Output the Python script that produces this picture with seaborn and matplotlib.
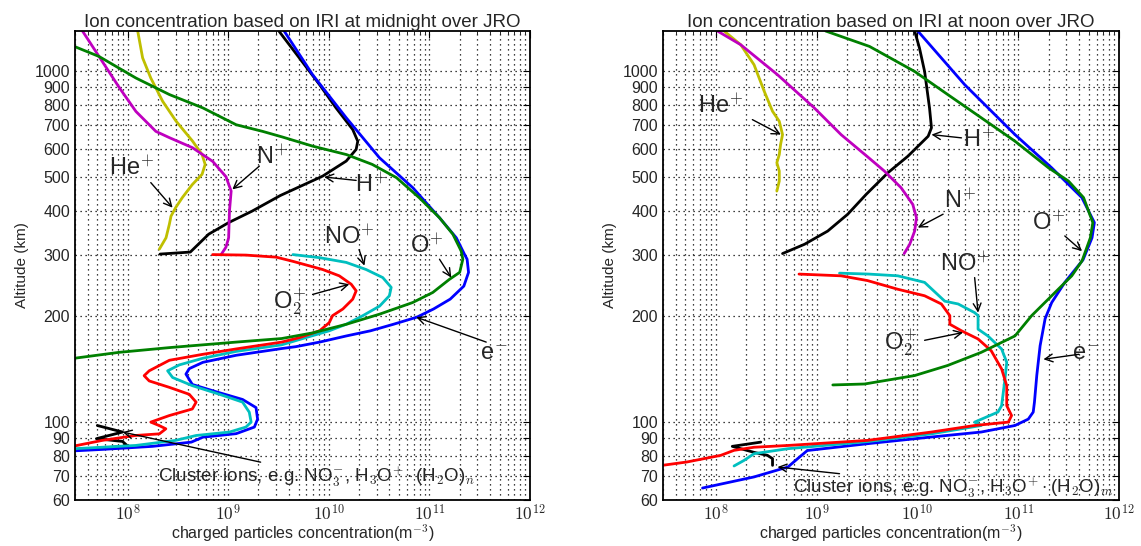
import numpy as np
import matplotlib
matplotlib.use("Agg")
import matplotlib.pyplot as plt
import seaborn as sns

# ---------------- data (concentration in m^-3, altitude in km) ----------------
# Midnight
mid_e_conc = [3.6e9, 6.9e9, 1.49e10, 3.19e10, 6.85e10, 1.26e11, 1.85e11, 2.24e11, 2.37e11, 2.45e11, 2.2e11,
              1.61e11, 1.1e11, 7.5e10, 4.4e10, 2.6e10, 1.5e10, 8.1e9, 4.7e9, 3.4e9, 1.2e9, 5.6e8, 4.1e8, 3.8e8,
              4.4e8, 7.6e8, 1.39e9, 1.89e9, 1.96e9, 1.82e9, 1.2e9, 5.6e8, 4.3e8, 1.77e8, 5.6e7, 2.9e7]
mid_e_alt = [1300, 976, 736, 566, 465, 382, 335, 300, 291, 267, 244,
             224, 210, 199, 190, 182, 176, 169, 164, 162, 155, 148, 142, 137,
             128, 122, 116, 110, 102, 96.8, 92.7, 90.6, 87.7, 85.3, 83.6, 82.8]

mid_o_conc = [2.95e7, 5.2e7, 1.21e8, 2.6e8, 5.6e8, 1.2e9, 2.2e9, 3.5e9, 6.9e9, 1.5e10, 2.7e10, 4.7e10, 7.9e10,
              1.26e11, 1.71e11, 2.07e11, 2.15e11, 2.0e11, 1.58e11, 1.08e11, 6.8e10, 3.2e10, 1.5e10, 6.9e9,
              3.4e9, 1.2e9, 2.6e8, 8.2e7, 2.95e7]
mid_o_alt = [1175, 1100, 955, 857, 785, 703, 673, 648, 611, 578, 542, 497, 436,
             382, 343, 307, 291, 267, 255, 234, 219, 203, 190, 179.5,
             173, 169, 163, 158, 152]

mid_h_conc = [3.22e9, 5.1e9, 8.1e9, 1.18e10, 1.73e10, 1.94e10, 1.87e10, 1.49e10, 8.7e9, 3.3e9, 1.73e9,
              1.01e9, 6.4e8, 4.2e8, 2.1e8]
mid_h_alt = [1295, 1089, 914, 785, 681, 631, 598, 554, 502, 442, 399, 370, 343, 305, 301]

mid_he_conc = [1.26e8, 1.41e8, 1.7e8, 2.23e8, 3.03e8, 4.43e8, 5.5e8, 5.9e8, 5.5e8, 4.4e8, 3.5e8, 3.0e8,
               2.7e8, 2.6e8, 2.41e8, 2.07e8]
mid_he_alt = [1300, 1090, 955, 820, 720, 631, 578, 542, 508, 475, 436, 408, 386, 366, 335, 311]

mid_n_conc = [3.56e7, 5.2e7, 8.2e7, 1.21e8, 1.91e8, 2.6e8, 4.4e8, 7.0e8, 9.5e8, 1.07e9, 1.03e9, 1.01e9,
              9.5e8, 8.5e8]
mid_n_alt = [1300, 1100, 900, 767, 673, 646, 605, 553, 500, 455, 400, 335, 315, 300]

mid_o2_conc = [7.0e8, 1.5e9, 3.0e9, 4.4e9, 8.7e9, 1.27e10, 1.67e10, 1.87e10, 1.73e10, 1.38e10, 1.09e10,
               1.01e10, 8.1e9, 5.1e9, 3.4e9, 1.2e9, 5.6e8, 2.6e8, 1.64e8, 1.46e8, 1.64e8, 2.6e8, 4.1e8,
               4.8e8, 4.4e8, 2.6e8, 1.7e8, 2.07e8, 2.4e8, 2.07e8, 1.2e8, 5.6e7, 2.95e7]
mid_o2_alt = [300, 299, 295, 287, 272, 261, 247, 236.5, 224, 210, 201,
              192, 182, 174, 169, 161.6, 156, 150, 140, 135.6, 131, 125.6, 120,
              114, 109, 104.4, 100, 97.7, 95.7, 92.6, 91.6, 88.7, 85.5]

mid_no_conc = [4.4e9, 8.1e9, 1.49e10, 2.35e10, 3.44e10, 4.17e10, 4.0e10, 3.2e10, 2.18e10, 1.49e10, 1.01e10,
               5.9e9, 3.4e9, 1.2e9, 5.6e8, 3.26e8, 2.5e8, 2.8e8, 4.4e8, 8.2e8, 1.39e9, 1.62e9, 1.69e9,
               1.5e9, 1.03e9, 4.8e8, 3.0e8, 1.2e8, 2.95e7]
mid_no_alt = [300, 294, 285, 272, 258, 242, 229, 214, 201, 190, 182,
              174, 166, 159, 152, 145.5, 140, 134, 127, 120, 114, 106.7, 100,
              96.8, 93.7, 91.6, 88.7, 85.8, 84]

mid_cl_conc = [5.0e7, 8.9e7, 4.9e7, 8.9e7, 1.0e8, 2.95e7]
mid_cl_alt = [97.8, 93.7, 89.7, 88.1, 85.5, 83.2]

# Noon
noon_e_conc = [1.01e10, 2.95e10, 9.3e10, 2.15e11, 4.28e11, 5.7e11, 5.4e11, 4.4e11, 2.9e11, 2.15e11, 1.85e11,
               1.65e11, 1.53e11, 1.45e11, 1.41e11, 1.26e11, 9.3e10, 4.3e10, 1.38e10, 3.2e9, 8.1e8, 6.5e8,
               5.2e8, 2.4e8, 7.4e7]
noon_e_alt = [1300, 914, 659, 530, 436, 370, 335, 290, 250, 219, 197,
              165, 136, 114, 106.8, 102, 97.8, 93.7, 90.7, 86.8, 83, 78.7,
              74.5, 69.8, 64.9]

noon_o_conc = [1.23e9, 3.35e9, 9.4e9, 2.0e10, 4.3e10, 9.3e10, 2.0e11, 3.15e11, 4.45e11, 5.5e11, 5.2e11, 4.3e11,
               3.4e11, 2.15e11, 1.36e11, 9.3e10, 4.3e10, 2.0e10, 9.4e9, 3.0e9, 1.45e9]
noon_o_alt = [1300, 1175, 997, 857, 736, 631, 530, 486, 436, 370, 335, 288,
              261, 229, 201, 176, 158, 145, 135.7, 128.4, 127.6]

noon_h_conc = [9.4e9, 1.05e10, 1.18e10, 1.32e10, 1.38e10, 1.28e10, 8.06e9, 5.1e9, 3.1e9, 2.04e9, 1.29e9,
               7.6e8, 4.6e8]
noon_h_alt = [1300, 1162, 997, 785, 689, 652, 572, 513, 445, 391, 350, 321, 302]

noon_he_conc = [1.21e8, 1.77e8, 2.4e8, 3.03e8, 3.66e8, 4.27e8, 4.6e8, 4.4e8, 4.27e8, 4.04e8, 4.27e8, 4.27e8, 4.04e8]
noon_he_alt = [1300, 1188, 1042, 875, 768, 719, 659, 618, 578, 548, 519, 486, 455]

noon_n_conc = [1.04e8, 1.77e8, 4.1e8, 9.5e8, 1.75e9, 3.2e9, 4.7e9, 6.9e9, 9.0e9, 9.8e9, 9.4e9, 8.4e9, 7.4e9]
noon_n_alt = [1300, 1188, 976, 785, 659, 570, 519, 465, 417, 382, 350, 321, 302]

noon_o2_conc = [6.7e8, 1.75e9, 3.2e9, 6.4e9, 1.18e10, 1.73e10, 2.1e10, 2.1e10, 2.74e10, 4.0e10, 5.4e10, 6.85e10,
                7.7e10, 7.7e10, 8.6e10, 8.0e10, 3.7e10, 1.38e10, 3.2e9, 5.2e8, 2.4e8, 1.52e8, 1.12e8,
                7.66e7, 5.2e7, 2.94e7]
noon_o2_alt = [264, 261, 253, 239, 229, 217, 201, 190, 182, 172.5, 159.7, 141.7,
               127, 111.4, 104.4, 100, 97.8, 93.7, 88.7, 85.8, 84.8, 83.1, 80.4,
               78.7, 77, 75.3]

noon_no_conc = [1.69e9, 3.3e9, 6.4e9, 1.18e10, 1.87e10, 2.54e10, 3.7e10, 4.0e10, 4.0e10, 5.0e10, 6.85e10,
                7.7e10, 7.4e10, 6.85e10, 6.3e10, 3.7e10, 4.3e10, 1.38e10, 3.2e9, 5.2e8, 2.4e8, 1.91e8, 1.52e8]
noon_no_alt = [265.6, 264, 261, 250, 221, 217, 205, 201, 184, 176, 161.5,
               148, 132.8, 111.4, 106.8, 100, 97.8, 92.6, 88, 84, 81.3, 77.8, 75]

noon_cl_conc = [2.8e8, 1.46e8, 2.4e8, 3.26e8, 3.66e8, 3.66e8]
noon_cl_alt = [87.7, 85.3, 82, 80.4, 78.7, 75.3]

# axis ticks
alt_ticks = [60, 70, 80, 90, 100, 200, 300, 400, 500, 600, 700, 800, 900, 1000]
conc_ticks = [1e8, 1e9, 1e10, 1e11, 1e12]
conc_tick_labels = [r"$10^{8}$", r"$10^{9}$", r"$10^{10}$", r"$10^{11}$", r"$10^{12}$"]

titles = ["Ion concentration based on IRI at midnight over JRO",
          "Ion concentration based on IRI at noon over JRO"]

# ---------------- styling ----------------
sns.set_style("white")
plt.rcParams["font.family"] = ["Liberation Sans", "DejaVu Sans"]
plt.rcParams["mathtext.fontset"] = "cm"

C = dict(b=(0, 0, 1), g=(0, 0.5, 0), r=(1, 0, 0), c=(0, 0.75, 0.75),
         m=(0.75, 0, 0.75), y=(0.75, 0.75, 0), k=(0, 0, 0))

fig = plt.figure(figsize=(11.41, 5.46), dpi=100)
axL = fig.add_axes([75 / 1141, 46 / 546, 455 / 1141, 469 / 546])
axR = fig.add_axes([663 / 1141, 46 / 546, 456 / 1141, 469 / 546])


def draw(ax, series):
    for conc, alt, col in series:
        sns.lineplot(x=conc, y=alt, sort=False, estimator=None, color=C[col], lw=2.0, ax=ax,
                     legend=False)


draw(axL, [(mid_cl_conc, mid_cl_alt, "k"), (mid_h_conc, mid_h_alt, "k"),
           (mid_he_conc, mid_he_alt, "y"), (mid_n_conc, mid_n_alt, "m"),
           (mid_e_conc, mid_e_alt, "b"), (mid_no_conc, mid_no_alt, "c"),
           (mid_o2_conc, mid_o2_alt, "r"), (mid_o_conc, mid_o_alt, "g")])
draw(axR, [(noon_cl_conc, noon_cl_alt, "k"), (noon_h_conc, noon_h_alt, "k"),
           (noon_he_conc, noon_he_alt, "y"), (noon_n_conc, noon_n_alt, "m"),
           (noon_e_conc, noon_e_alt, "b"), (noon_no_conc, noon_no_alt, "c"),
           (noon_o2_conc, noon_o2_alt, "r"), (noon_o_conc, noon_o_alt, "g")])

grid_ls = (0, (1, 3))
for ax, t in zip([axL, axR], titles):
    ax.set_xscale("log")
    ax.set_yscale("log")
    ax.set_xlim(3e7, 1e12)
    ax.set_ylim(60, 1300)
    ax.set_xticks(conc_ticks)
    ax.set_xticklabels(conc_tick_labels, fontsize=12.5)
    ax.xaxis.set_minor_locator(matplotlib.ticker.LogLocator(base=10, subs=np.arange(2, 10)))
    ax.xaxis.set_minor_formatter(matplotlib.ticker.NullFormatter())
    ax.set_yticks(alt_ticks)
    ax.set_yticklabels([str(v) for v in alt_ticks], fontsize=11.5)
    ax.yaxis.set_minor_locator(matplotlib.ticker.NullLocator())
    ax.grid(True, which="both", axis="x", ls=grid_ls, color="k", lw=0.9)
    ax.grid(True, which="major", axis="y", ls=grid_ls, color="k", lw=0.9)
    ax.tick_params(which="both", direction="in", top=True, right=True, color="k")
    ax.tick_params(which="major", length=5)
    ax.tick_params(which="minor", length=2.5)
    ax.tick_params(axis="x", pad=2)
    for s in ax.spines.values():
        s.set_color("k")
        s.set_linewidth(1.3)
    ax.set_title(t, fontsize=13.5, pad=3)
    ax.set_xlabel(r"charged particles concentration(m$^{-3}$)", fontsize=11.5, labelpad=0)
    ax.set_ylabel("Altitude (km)", fontsize=11, labelpad=4)

arrow = dict(arrowstyle="->", color="k", lw=1.0, shrinkA=0, shrinkB=0, mutation_scale=14)
LBL = 17


def label(ax, text, xy, tail, head, fs=LBL, ha="center"):
    ax.text(xy[0], xy[1], text, fontsize=fs, ha=ha, va="center")
    ax.annotate("", xy=head, xytext=tail, arrowprops=arrow)


# midnight labels
label(axL, r"He$^{+}$", (1.1e8, 531), (1.7e8, 481), (2.8e8, 408))
label(axL, r"N$^{+}$", (2.7e9, 571), (2.04e9, 536), (1.1e9, 460))
label(axL, r"H$^{+}$", (2.6e10, 475), (1.87e10, 488), (9.0e9, 499))
label(axL, r"NO$^{+}$", (1.6e10, 336), (2.0e10, 310), (2.26e10, 279))
label(axL, r"O$^{+}$", (9.3e10, 318), (1.26e11, 291), (1.65e11, 258))
label(axL, r"O$_2^{+}$", (4.1e9, 219), (6.9e9, 231), (1.6e10, 247))
label(axL, r"e$^{-}$", (4.4e11, 156), (3.67e11, 169), (7.4e10, 199))
axL.text(2.0e8, 70, r"Cluster ions, e.g. NO$_3^{-}$, H$_3$O$^{+}\cdot$(H$_2$O)$_n$", fontsize=13.5,
         ha="left", va="center")
axL.annotate("", xy=(8.9e7, 93.7), xytext=(2.1e9, 76.9), arrowprops=arrow)

# noon labels
label(axR, r"He$^{+}$", (1.12e8, 795), (2.31e8, 727), (4.43e8, 659))
label(axR, r"H$^{+}$", (4.1e10, 638), (2.74e10, 645), (1.38e10, 659))
label(axR, r"N$^{+}$", (2.64e10, 426), (1.8e10, 391), (1.01e10, 358))
label(axR, r"O$^{+}$", (2.0e11, 370), (2.9e11, 339), (4.3e11, 307))
label(axR, r"NO$^{+}$", (2.95e10, 282), (3.7e10, 258), (4.0e10, 205))
label(axR, r"O$_2^{+}$", (6.9e9, 167), (1.18e10, 171), (2.84e10, 180))
label(axR, r"e$^{-}$", (4.7e11, 156), (4.0e11, 156), (1.78e11, 151))
axR.text(5.8e8, 65.3, r"Cluster ions, e.g. NO$_3^{-}$, H$_3$O$^{+}\cdot$(H$_2$O)$_m$", fontsize=13.5,
         ha="left", va="center")
axR.annotate("", xy=(4.1e8, 74.5), xytext=(1.69e9, 71.3), arrowprops=arrow)

fig.savefig("out.png", dpi=100)
